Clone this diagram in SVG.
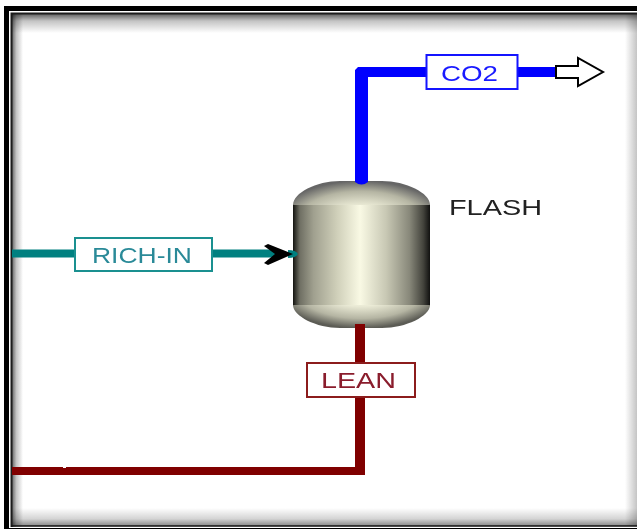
<svg xmlns="http://www.w3.org/2000/svg" width="637" height="529" viewBox="0 0 637 529">
<style>
.lab{fill:#fff;stroke-width:2}
.t{font-family:"Liberation Sans",Arial,sans-serif;font-size:22px}
.sh{mix-blend-mode:multiply}
</style>
<defs>
<linearGradient id="sL" x1="0" x2="1" y1="0" y2="0"><stop offset="0" stop-color="#666"/><stop offset=".4" stop-color="#c4c4c4"/><stop offset="1" stop-color="#fff"/></linearGradient>
<linearGradient id="sT" x1="0" x2="0" y1="0" y2="1"><stop offset="0" stop-color="#555"/><stop offset=".4" stop-color="#c4c4c4"/><stop offset="1" stop-color="#fff"/></linearGradient>
<linearGradient id="sB" x1="0" x2="0" y1="1" y2="0"><stop offset="0" stop-color="#888"/><stop offset=".4" stop-color="#d4d4d4"/><stop offset="1" stop-color="#fff"/></linearGradient>
<linearGradient id="sR" x1="1" x2="0" y1="0" y2="0"><stop offset="0" stop-color="#c4c4c4"/><stop offset="1" stop-color="#fff"/></linearGradient>
<linearGradient id="body" x1="0" x2="1" y1="0" y2="0">
<stop offset="0" stop-color="#141410"/><stop offset=".05" stop-color="#6f6f63"/><stop offset=".15" stop-color="#a0a08f"/><stop offset=".32" stop-color="#cfcfb9"/><stop offset=".49" stop-color="#f9f9e4"/><stop offset=".68" stop-color="#c8c8b4"/><stop offset=".85" stop-color="#88887a"/><stop offset=".95" stop-color="#44443d"/><stop offset="1" stop-color="#111110"/>
</linearGradient>
<radialGradient id="domeT" gradientUnits="userSpaceOnUse" cx="0" cy="0" r="1" gradientTransform="translate(361 222) scale(85 41)">
<stop offset="0" stop-color="#f9f9e4"/><stop offset=".42" stop-color="#e8e8d3"/><stop offset=".75" stop-color="#b5b5a3"/><stop offset="1" stop-color="#666"/>
</radialGradient>
<radialGradient id="domeB" gradientUnits="userSpaceOnUse" cx="0" cy="0" r="1" gradientTransform="translate(361 290) scale(85 38)">
<stop offset="0" stop-color="#f9f9e4"/><stop offset=".42" stop-color="#ebebd6"/><stop offset=".75" stop-color="#b5b5a3"/><stop offset="1" stop-color="#5c5c55"/>
</radialGradient>
</defs>
<rect width="637" height="529" fill="#fff"/>
<g id="frame">
<rect class="sh" x="12" y="13" width="625" height="20" fill="url(#sT)"/>
<rect class="sh" x="12" y="13" width="11" height="514" fill="url(#sL)"/>
<rect class="sh" x="12" y="508" width="625" height="18" fill="url(#sB)"/>
<rect class="sh" x="625" y="13" width="12" height="513" fill="url(#sR)"/>
<path d="M4 6H637V11H9V529H4Z" fill="#000"/>
<path d="M11.500 527V13.500H637" fill="none" stroke="#1c1c1c" stroke-width="2"/>
<path d="M11 526H637" stroke="#111" stroke-width="1.500"/>
<path d="M9 528.500H637" stroke="#000" stroke-width="1"/>
</g>
<g id="flash">
<rect x="293" y="204" width="137" height="102" fill="url(#body)"/>
<path d="M293 205C293 193 316 181 340 181H382C406 181 430 193 430 205Z" fill="url(#domeT)"/>
<path d="M293 305C293 316 316 328 340 328H382C406 328 430 316 430 305Z" fill="url(#domeB)"/>
<text class="t" x="449" y="215" fill="#222" textLength="93" lengthAdjust="spacingAndGlyphs">FLASH</text>
</g>
<g id="connectors">
<path d="M355 70L358 67H430V77H368V182Q361.500 187 355 182Z" fill="#0000ff"/>
<path d="M515 72H556" stroke="#0000ff" stroke-width="10" fill="none"/>
<path d="M12 253.500H276" stroke="#008080" stroke-width="8" fill="none"/>
<path d="M355 324H365V475H12V467H355Z" fill="#800000"/>
<rect x="63" y="466" width="3" height="2" fill="#fff"/>
<path d="M288 250Q296 250 298 254Q296 258 288 258Z" fill="#008080"/>
<path d="M264 246L268 244L293 254L268 265L264 263L275 254Z" fill="#000"/>
<path d="M556 66H578V58L603 72L578 86V78H556Z" fill="#fff" stroke="#000" stroke-width="2"/>
</g>
<g id="co2">
<rect class="lab" x="426.500" y="55" width="91" height="34" stroke="#1414ff"/>
<text class="t" x="441" y="81" fill="#1a1aff" textLength="57" lengthAdjust="spacingAndGlyphs">CO2</text>
</g>
<g id="rich-in">
<rect class="lab" x="75" y="238" width="137" height="33" stroke="#1a9090"/>
<text class="t" x="92" y="263" fill="#2a8a98" textLength="100" lengthAdjust="spacingAndGlyphs">RICH-IN</text>
</g>
<g id="lean">
<rect class="lab" x="307" y="363" width="108" height="34" stroke="#8c1c1c"/>
<text class="t" x="321" y="388" fill="#8a1c2c" textLength="75" lengthAdjust="spacingAndGlyphs">LEAN</text>
</g>
</svg>
